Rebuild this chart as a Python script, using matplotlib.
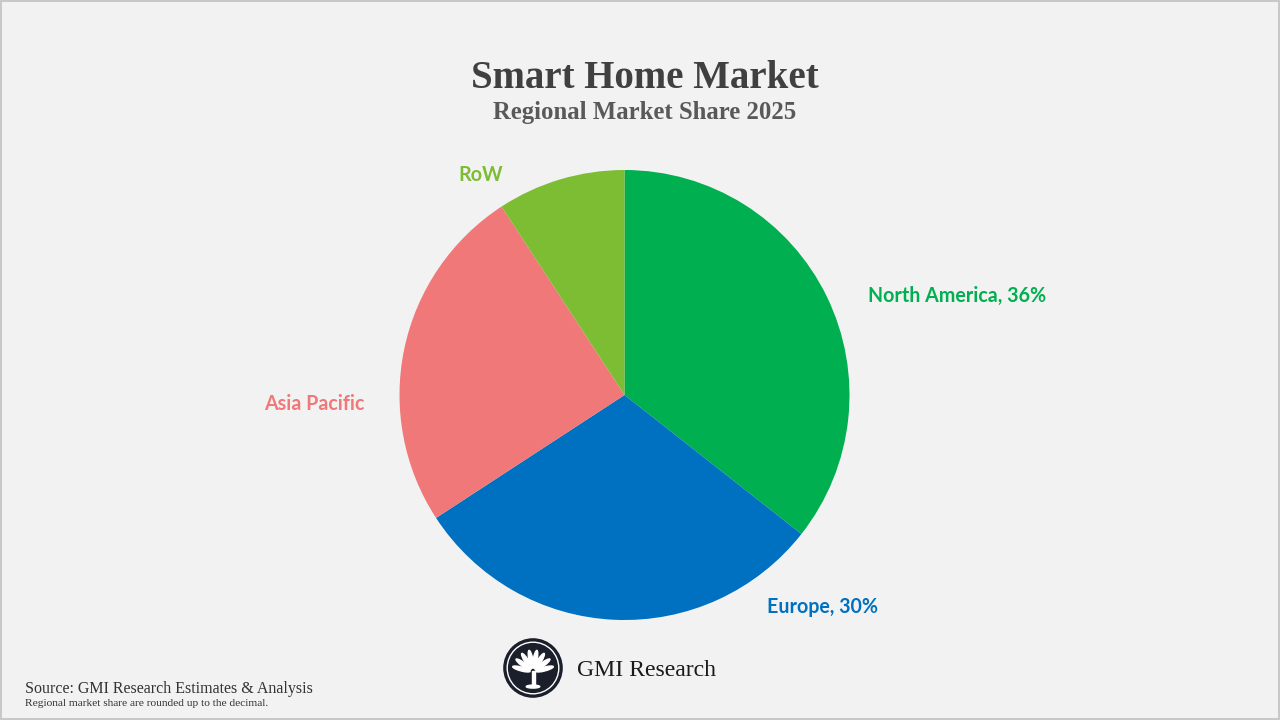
import matplotlib
matplotlib.use("Agg")
import matplotlib.pyplot as plt
from matplotlib.patches import Circle, Rectangle, Ellipse
import numpy as np

regions = ["North America", "Europe", "Asia Pacific", "RoW"]
shares = [35.6, 30.2, 25.0, 9.2]
colors = ["#00b050", "#0070c0", "#f07878", "#7dbd34"]
show_pct = [True, True, False, False]

W, H = 1280, 720
fig = plt.figure(figsize=(W / 100, H / 100), dpi=100)
fig.patch.set_facecolor("#f2f2f2")

def fx(px):
    return px / W

def fy(py):
    return 1 - py / H

# frame
fig.add_artist(Rectangle((0.0005, 0.001), 0.999, 0.998, transform=fig.transFigure,
                         fill=False, edgecolor="#c0c0c0", linewidth=1.2))

# pie axes
cx, cy, r = 624.5, 395, 225
ax = fig.add_axes([fx(cx - r), fy(cy + r), 2 * r / W, 2 * r / H])
ax.pie(shares, colors=colors, startangle=90, counterclock=False, radius=1,
       wedgeprops=dict(linewidth=0))
ax.set_xlim(-1, 1)
ax.set_ylim(-1, 1)
ax.set_aspect("equal")
ax.axis("off")

label_font = ["Lato", "DejaVu Sans"]
label_pos = [(868, 296, "left"), (767, 607, "left"), (364, 404, "right"), (458, 175, "left")]
for name, val, col, sp, (px, py, ha) in zip(regions, shares, colors, show_pct, label_pos):
    txt = f"{name}, {round(val)}%" if sp else name
    fig.text(fx(px), fy(py), txt, color=col, fontsize=14.1, fontweight="bold",
             family=label_font, ha=ha, va="center")

# titles
serif = ["Liberation Serif", "DejaVu Serif"]
fig.text(0.504, fy(78), "Smart Home Market", ha="center", va="center",
         fontsize=28, fontweight="bold", family=serif, color="#404040")
fig.text(0.504, fy(113), "Regional Market Share 2025", ha="center", va="center",
         fontsize=17.8, fontweight="bold", family=serif, color="#595959")

# logo
lax = fig.add_axes([fx(533 - 30), fy(668 + 30), 60 / W, 60 / H])
lax.set_xlim(-1, 1)
lax.set_ylim(-1, 1)
lax.set_aspect("equal")
lax.axis("off")
lax.add_patch(Circle((0, 0), 0.97, color="#1b1f2b"))
lax.add_patch(Circle((0, 0), 0.86, fill=False, edgecolor="white", linewidth=1.0))
for ang in np.linspace(15, 165, 8):
    a = np.deg2rad(ang)
    lax.add_patch(Ellipse((0.4 * np.cos(a), -0.15 + 0.45 * np.sin(a)), 0.6, 0.13,
                          angle=ang, color="white"))
lax.add_patch(Rectangle((-0.05, -0.6), 0.1, 0.5, color="white"))
lax.add_patch(Ellipse((0, -0.62), 0.45, 0.1, color="white"))

fig.text(fx(577), fy(670), "GMI Research", ha="left", va="center", fontsize=17.1,
         family=serif, color="#1a1a1a")

# source
fig.text(fx(25), fy(689), "Source: GMI Research Estimates & Analysis", ha="left", va="center",
         fontsize=11.5, family=serif, color="#333333")
fig.text(fx(25), fy(704), "Regional market share are rounded up to the decimal.", ha="left",
         va="center", fontsize=8.2, family=serif, color="#333333")

fig.savefig("out.png", dpi=100, facecolor=fig.get_facecolor())
